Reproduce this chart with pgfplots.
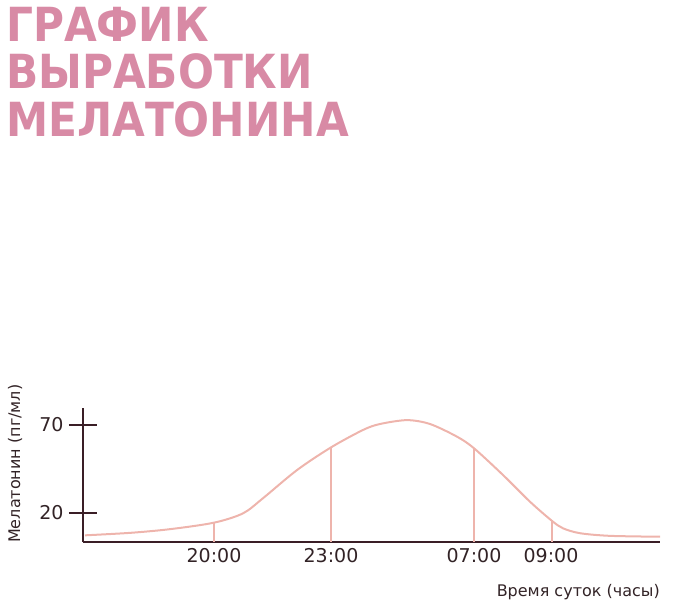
\documentclass[border=0pt]{standalone}
\usepackage{pgfplots}
\pgfplotsset{compat=1.18}
\usepackage{fontspec}
\setmainfont{DejaVu Sans}
\newfontfamily\titlefont{DejaVu Sans Condensed}
\definecolor{titlepink}{RGB}{216,138,165}
\definecolor{curvepink}{RGB}{238,180,172}
\definecolor{axisdark}{RGB}{58,30,38}
\definecolor{textdark}{RGB}{50,35,38}
\begin{document}
\begin{tikzpicture}
\useasboundingbox (0,0) rectangle (682bp,-612bp);
\node[anchor=north west, align=left, inner sep=0pt, text=titlepink,
  font=\titlefont\bfseries\fontsize{47bp}{47.5bp}\selectfont] at (6bp,-7bp)
  {ГРАФИК\\ВЫРАБОТКИ\\МЕЛАТОНИНА};
\begin{axis}[
  at={(83bp,-542bp)}, anchor=south west,
  scale only axis, width=577bp, height=134bp,
  xmin=83, xmax=660, ymin=3.5, ymax=79.7,
  axis x line*=bottom, axis y line*=left,
  axis line style={axisdark, line width=2bp, -},
  xtick={214,331,474,551},
  xticklabels={20:00,23:00,07:00,09:00},
  xtick style={draw=none},
  ytick={20,70},
  ytick style={axisdark, line width=2bp},
  major tick length=28bp, tick align=center,
  /pgf/number format/assume math mode=true,
  yticklabel style={font=\fontsize{19bp}{22bp}\selectfont, text=textdark, xshift=-2bp},
  xticklabel style={font=\fontsize{19bp}{22bp}\selectfont, text=textdark, yshift=11bp},
  clip=false,
]
\addplot[smooth, tension=0.5, curvepink, line width=2bp] coordinates {
(85,7.3) (130,8.7) (170,10.8) (214,14.5) (243,19.8) (263,28.4) (297,44.4) (331,57.3)
(363,67.2) (380,70.6) (407,72.8) (430,70.6) (457,63.4) (474,56.8) (503,41.6)
(530,26.4) (552,15.5) (563,11.3) (580,8.5) (610,7.0) (660,6.5)};
\addplot[curvepink, line width=1.6bp] coordinates {(214,3.5) (214,14.5)};
\addplot[curvepink, line width=1.6bp] coordinates {(331,3.5) (331,57.3)};
\addplot[curvepink, line width=1.6bp] coordinates {(474,3.5) (474,56.8)};
\addplot[curvepink, line width=1.6bp] coordinates {(552,3.5) (552,15.5)};
\end{axis}
\node[rotate=90, anchor=west, text=textdark, inner sep=0pt,
  font=\fontsize{16bp}{18bp}\selectfont] at (15bp,-543bp) {Мелатонин (пг/мл)};
\node[anchor=east, text=textdark, inner sep=0pt,
  font=\fontsize{16bp}{18bp}\selectfont] at (660bp,-592bp) {Время суток (часы)};
\end{tikzpicture}
\end{document}
